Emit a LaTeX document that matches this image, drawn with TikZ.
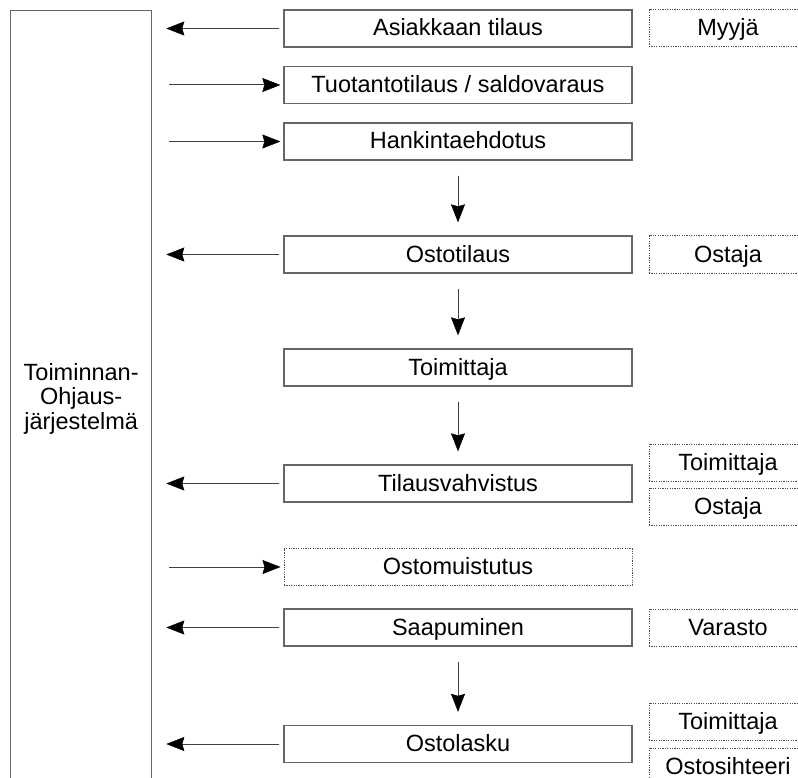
\documentclass[tikz,border=0pt]{standalone}
\usepackage{fontspec}
\setmainfont{Liberation Sans}
\usetikzlibrary{arrows.meta}
\begin{document}
\begin{tikzpicture}[x=1pt,y=-1pt,
  font=\fontsize{23.5}{24.5}\selectfont,
  stepbox/.style={draw=black!60, line width=1.3pt, minimum width=348pt,
    minimum height=37pt, inner sep=0pt, text height=17pt, text depth=2pt},
  dottedstep/.style={stepbox, draw=black!70, line width=1pt, dash pattern=on 1.2pt off 1.2pt},
  rolebox/.style={draw=black!70, line width=1pt, dash pattern=on 1.2pt off 1.2pt,
    minimum width=158pt, minimum height=37pt, inner sep=0pt,
    text height=17pt, text depth=2pt},
  flow/.style={draw=black!75, line width=1pt,
    -{Stealth[length=18pt,width=14pt,inset=2pt,black,line width=0.5pt]}}
]
\useasboundingbox (0,0) rectangle (798,778);
\clip (0,0) rectangle (798,778);

% ERP system column
\node[draw=black!60, line width=1.3pt, minimum width=141pt, minimum height=776pt,
  inner sep=0pt, anchor=north west, align=center] (sys) at (10,10)
  {Toiminnan-\\Ohjaus-\\järjestelmä};

% process steps
\node[stepbox] (asiak) at (458,28.5) {Asiakkaan tilaus};
\node[stepbox] (tuot)  at (458,85)   {Tuotantotilaus / saldovaraus};
\node[stepbox] (hank)  at (458,141.5) {Hankintaehdotus};
\node[stepbox] (ostot) at (458,254.5) {Ostotilaus};
\node[stepbox] (toim)  at (458,367.5) {Toimittaja};
\node[stepbox] (vahv)  at (458,483.5) {Tilausvahvistus};
\node[dottedstep] (muist) at (458,567) {Ostomuistutus};
\node[stepbox] (saap)  at (458,627.5) {Saapuminen};
\node[stepbox] (lasku) at (458,744)   {Ostolasku};

% responsible roles
\node[rolebox] (r1) at (728,28.5)  {Myyjä};
\node[rolebox] (r2) at (728,254.5) {Ostaja};
\node[rolebox] (r3) at (728,462.5) {Toimittaja};
\node[rolebox] (r4) at (728,506.5) {Ostaja};
\node[rolebox] (r5) at (728,627.5) {Varasto};
\node[rolebox] (r6) at (728,721.5) {Toimittaja};
\node[rolebox] (r7) at (728,766.5) {Ostosihteeri};

% data into the system
\foreach \s in {asiak,ostot,vahv,saap,lasku}
  \draw[flow, shorten <=4pt, shorten >=14pt] (\s.west) -- (sys.east |- \s.west);
% data from the system
\foreach \s in {tuot,hank,muist}
  \draw[flow, shorten <=17pt, shorten >=3pt] (sys.east |- \s.west) -- (\s.west);

% process flow
\draw[flow, shorten <=15pt, shorten >=13pt] (hank.south) -- (ostot.north);
\draw[flow, shorten <=15pt, shorten >=13pt] (ostot.south) -- (toim.north);
\draw[flow, shorten <=15pt, shorten >=13pt] (toim.south) -- (vahv.north);
\draw[flow, shorten <=15pt, shorten >=13pt] (saap.south) -- (lasku.north);
\end{tikzpicture}
\end{document}
